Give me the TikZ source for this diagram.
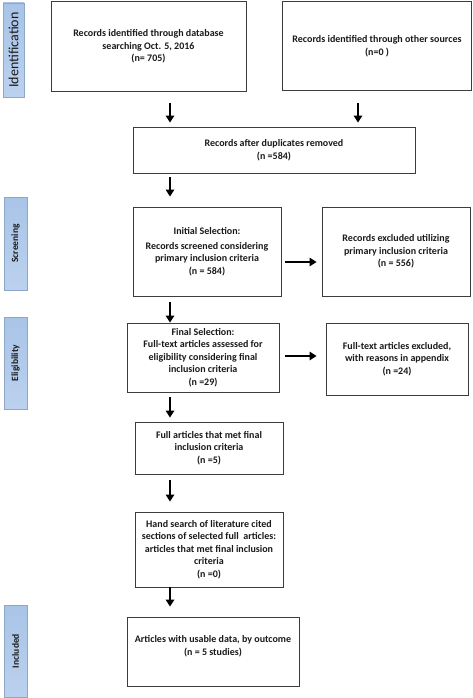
\documentclass[tikz,border=0pt]{standalone}
\usepackage{fontspec}
\setmainfont{Carlito}
\usetikzlibrary{arrows.meta}
\definecolor{boxline}{HTML}{3C3C3C}
\definecolor{lblfill}{HTML}{A9C4E7}
\definecolor{lblfilltwo}{HTML}{BBD1EE}
\definecolor{lblline}{HTML}{8DA7C7}
\definecolor{txt}{HTML}{1A1A1A}
\begin{document}
\begin{tikzpicture}[x=1pt,y=-1pt,
  box/.style={draw=boxline, line width=0.9pt, fill=white, align=center, inner sep=2pt,
    font=\fontsize{10}{12.5}\selectfont\bfseries, text=txt},
  lbl/.style={draw=lblline, line width=0.6pt, top color=lblfill, bottom color=lblfilltwo,
    inner sep=0pt, text=txt},
  arr/.style={line width=1.4pt, draw=black, -{Triangle[width=8.5pt,length=7pt]}}]
\useasboundingbox[fill=white] (0,0) rectangle (473,698);

% phase labels
\node[lbl, minimum width=21pt, minimum height=94pt] (L1) at (13.5,50) {};
\node[rotate=90, text=txt, font=\fontsize{14}{14}\selectfont] (L1t) at (L1.center) {Identification};
\node[lbl, minimum width=23pt, minimum height=93pt] (L2) at (15.5,243.5) {};
\node[rotate=90, text=txt, font=\fontsize{9.5}{10}\selectfont\bfseries] (L2t) at (L2.center) {Screening};
\node[lbl, minimum width=23pt, minimum height=92pt] (L3) at (15.5,363) {};
\node[rotate=90, text=txt, font=\fontsize{9.5}{10}\selectfont\bfseries] (L3t) at (L3.center) {Eligibility};
\node[lbl, minimum width=23pt, minimum height=92pt] (L4) at (15.5,651) {};
\node[rotate=90, text=txt, font=\fontsize{9.5}{10}\selectfont\bfseries] (L4t) at (L4.center) {Included};

% boxes
\node[box, minimum width=195pt, minimum height=90pt] (b1) at (148.5,46.5)
  {Records identified through database\\searching Oct. 5, 2016\\(n= 705)};
\node[box, minimum width=189pt, minimum height=89pt] (b2) at (377,46)
  {Records identified through other sources\\(n=0 )};
\node[box, minimum width=282pt, minimum height=46pt] (b3) at (274,150)
  {Records after duplicates removed\\(n =584)};
\node[box, minimum width=148pt, minimum height=89pt] (b4) at (207,251.5)
  {Initial Selection:\\[2pt]Records screened considering\\primary inclusion criteria\\(n = 584)};
\node[box, minimum width=148pt, minimum height=89pt] (b5) at (396,251.5)
  {Records excluded utilizing\\primary inclusion criteria\\(n = 556)};
\node[box, minimum width=152pt, minimum height=69pt] (b6) at (203,357.5)
  {Final Selection:\\Full-text articles assessed for\\eligibility considering final\\inclusion criteria\\(n =29)};
\node[box, minimum width=142pt, minimum height=72pt] (b7) at (397,359)
  {Full-text articles excluded,\\with reasons in appendix\\(n =24)};
\node[box, minimum width=148pt, minimum height=52pt] (b8) at (209,448)
  {Full articles that met final\\inclusion criteria\\(n =5)};
\node[box, minimum width=148pt, minimum height=75pt] (b9) at (209,549.5)
  {Hand search of literature cited\\sections of selected full\ \ articles:\\articles that met final inclusion\\criteria\\(n =0)};
\node[box, minimum width=172pt, minimum height=69pt] (b10) at (213,651.5)
  {Articles with usable data, by outcome\\(n = 5 studies)\\\mbox{}};

% arrow guide coordinates
\coordinate (ax) at (170,0);
\coordinate (bx) at (358,0);
\coordinate (h1) at (0,262);
\coordinate (h2) at (0,356);

% connectors
\draw[arr, shorten <=11pt, shorten >=4pt] (b1.south -| ax) -- (b3.north -| ax);
\draw[arr, shorten <=12pt, shorten >=4pt] (b2.south -| bx) -- (b3.north -| bx);
\draw[arr, shorten <=4pt, shorten >=10pt] (b3.south -| ax) -- (b4.north -| ax);
\draw[arr, shorten <=6pt, shorten >=0pt] (b4.south -| ax) -- (b6.north -| ax);
\draw[arr, shorten <=5pt, shorten >=4pt] (b6.south -| ax) -- (b8.north -| ax);
\draw[arr, shorten <=6pt, shorten >=10pt] (b8.south -| ax) -- (b9.north -| ax);
\draw[arr, shorten <=0pt, shorten >=10pt] (b9.south -| ax) -- (b10.north -| ax);
\draw[arr, shorten <=4pt, shorten >=5pt] (b4.east |- h1) -- (b5.west |- h1);
\draw[arr, shorten <=6pt, shorten >=9pt] (b6.east |- h2) -- (b7.west |- h2);
\end{tikzpicture}
\end{document}
